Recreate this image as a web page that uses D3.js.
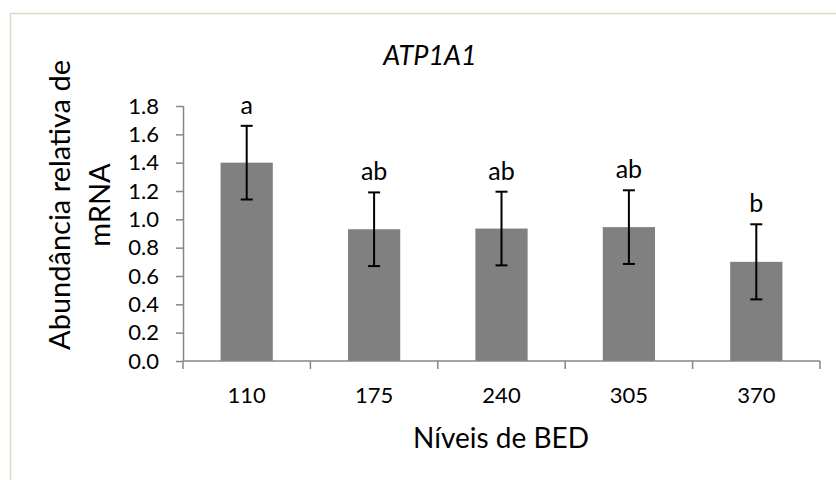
<!DOCTYPE html>
<html>
<head>
<meta charset="utf-8">
<script src="https://cdn.jsdelivr.net/npm/d3@7"></script>
<style>
  body { margin: 0; background: #fff; }
  text { font-family: Lato, "Open Sans", sans-serif; fill: #000; }
</style>
</head>
<body>
<svg id="chart"></svg>
<script>
// Data
const levels = ["110", "175", "240", "305", "370"];
const means = [1.40, 0.93, 0.935, 0.945, 0.70];
const errors = [0.26, 0.26, 0.26, 0.26, 0.265];
const letters = ["a", "ab", "ab", "ab", "b"];
const yTicks = [0, 0.2, 0.4, 0.6, 0.8, 1.0, 1.2, 1.4, 1.6, 1.8];

const W = 836, H = 480;
const margin = { top: 106, right: 16, bottom: 119, left: 183 };
const width = W - margin.left - margin.right;
const height = H - margin.top - margin.bottom;

const svg = d3.select("#chart")
  .attr("width", W)
  .attr("height", H);

// chart frame (only top/left visible in the picture)
svg.append("rect")
  .attr("x", 10.5).attr("y", 13.5)
  .attr("width", W).attr("height", H)
  .attr("fill", "none")
  .attr("stroke", "#dcd9c6")
  .attr("stroke-width", 1.5);

const g = svg.append("g")
  .attr("transform", `translate(${margin.left},${margin.top})`);

// Scales
const x = d3.scaleBand()
  .domain(levels)
  .range([0, width])
  .paddingInner(0.59)
  .paddingOuter(0.295);

const y = d3.scaleLinear()
  .domain([0, 1.8])
  .range([height, 0]);

// Bars
g.selectAll(".bar")
  .data(levels)
  .enter()
  .append("rect")
  .attr("class", "bar")
  .attr("x", d => x(d))
  .attr("y", (d, i) => y(means[i]))
  .attr("width", x.bandwidth())
  .attr("height", (d, i) => height - y(means[i]))
  .attr("fill", "#808080");

// Y axis
const yAxis = d3.axisLeft(y)
  .tickValues(yTicks)
  .tickFormat(d3.format(".1f"))
  .tickSize(7)
  .tickPadding(17);
const yG = g.append("g").call(yAxis);
yG.select(".domain").attr("stroke", "#868686").attr("stroke-width", 1.5)
  .attr("d", `M0.5,0V${height}`);
yG.selectAll(".tick line").attr("stroke", "#868686").attr("stroke-width", 1.5);
yG.selectAll(".tick text").style("font-size", "22px").attr("fill", "#000");

// X axis: Excel style ticks between categories
const xAxisG = g.append("g").attr("transform", `translate(0,${height})`);
xAxisG.append("line")
  .attr("x1", 0).attr("x2", width)
  .attr("stroke", "#868686").attr("stroke-width", 1.5);
const step = x.step();
const bounds = levels.map((d, i) => x(d) - (step - x.bandwidth()) / 2);
bounds.push(width);
xAxisG.selectAll(".xtick")
  .data(bounds)
  .enter()
  .append("line")
  .attr("x1", d => d).attr("x2", d => d)
  .attr("y1", 0).attr("y2", 8)
  .attr("stroke", "#868686").attr("stroke-width", 1.5);
xAxisG.selectAll(".xlabel")
  .data(levels)
  .enter()
  .append("text")
  .attr("x", d => x(d) + x.bandwidth() / 2)
  .attr("y", 42)
  .attr("text-anchor", "middle")
  .style("font-size", "22px")
  .text(d => d);

// Error bars
const eb = g.selectAll(".err")
  .data(levels)
  .enter()
  .append("g")
  .attr("stroke", "#000")
  .attr("stroke-width", 2);
eb.append("line")
  .attr("x1", d => x(d) + x.bandwidth() / 2)
  .attr("x2", d => x(d) + x.bandwidth() / 2)
  .attr("y1", (d, i) => y(means[i] - errors[i]))
  .attr("y2", (d, i) => y(means[i] + errors[i]));
eb.append("line")
  .attr("x1", d => x(d) + x.bandwidth() / 2 - 6)
  .attr("x2", d => x(d) + x.bandwidth() / 2 + 6)
  .attr("y1", (d, i) => y(means[i] + errors[i]))
  .attr("y2", (d, i) => y(means[i] + errors[i]));
eb.append("line")
  .attr("x1", d => x(d) + x.bandwidth() / 2 - 6)
  .attr("x2", d => x(d) + x.bandwidth() / 2 + 6)
  .attr("y1", (d, i) => y(means[i] - errors[i]))
  .attr("y2", (d, i) => y(means[i] - errors[i]));

// Significance letters
g.selectAll(".letter")
  .data(levels)
  .enter()
  .append("text")
  .attr("x", d => x(d) + x.bandwidth() / 2)
  .attr("y", (d, i) => y(means[i] + errors[i]) - 12)
  .attr("text-anchor", "middle")
  .style("font-size", "25px")
  .text((d, i) => letters[i]);

// Title
svg.append("text")
  .attr("x", 430)
  .attr("y", 65)
  .attr("text-anchor", "middle")
  .style("font-size", "27px")
  .style("font-style", "italic")
  .text("ATP1A1");

// Axis titles
svg.append("text")
  .attr("x", 501)
  .attr("y", 448)
  .attr("text-anchor", "middle")
  .style("font-size", "28px")
  .text("Níveis de BED");

const yTitle = svg.append("text")
  .attr("transform", "translate(70,205) rotate(-90)")
  .attr("text-anchor", "middle")
  .style("font-size", "29px");
yTitle.append("tspan").attr("x", 0).attr("y", 0).text("Abundância relativa de");
yTitle.append("tspan").attr("x", 0).attr("y", 40).text("mRNA");
</script>
</body>
</html>
